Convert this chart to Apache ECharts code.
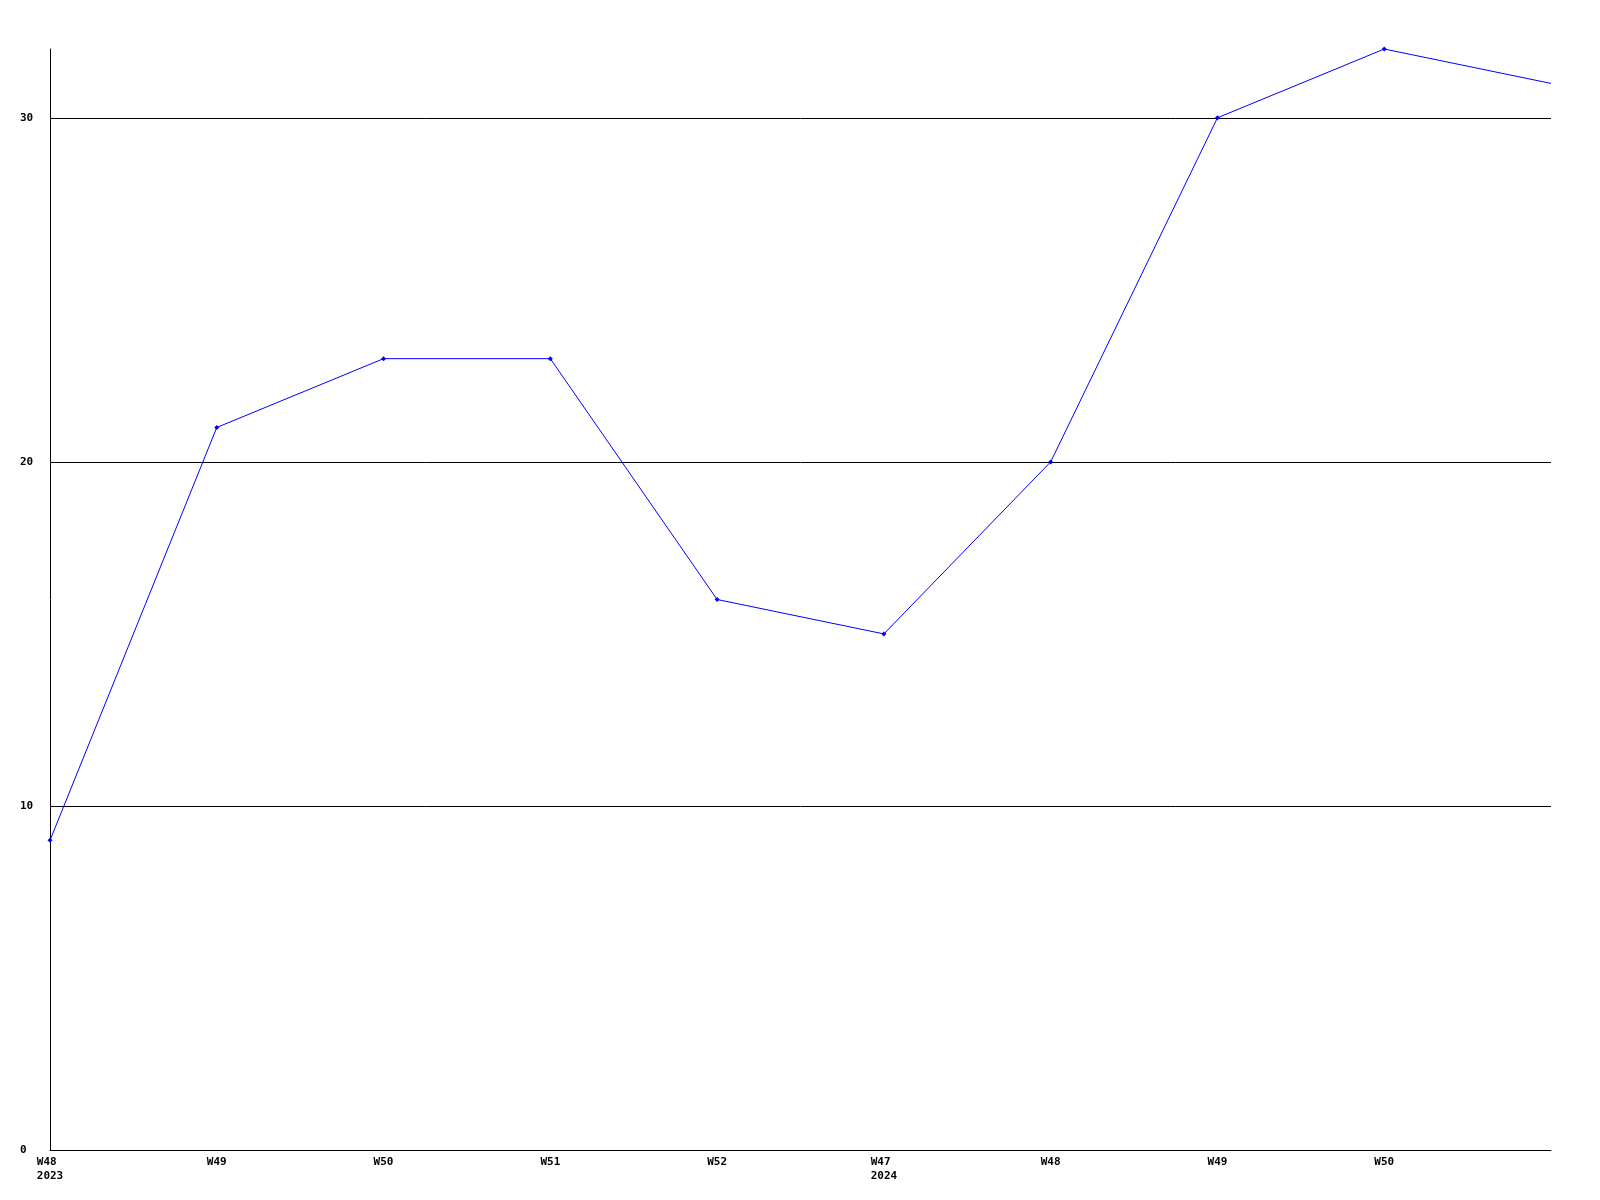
<!DOCTYPE html>
<html>
<head>
<meta charset="utf-8">
<script src="https://cdn.jsdelivr.net/npm/echarts@6/dist/echarts.min.js"></script>
<style>html,body{margin:0;padding:0;background:#fff}#c{width:1600px;height:1200px}</style>
</head>
<body>
<div id="c"></div>
<script>
const categories = ['W48\n2023', 'W49', 'W50', 'W51', 'W52', 'W47\n2024', 'W48', 'W49', 'W50', 'W51'];
const values = [9, 21, 23, 23, 16, 15, 20, 30, 32, 31];
const yTicks = [0, 10, 20, 30];

const chart = echarts.init(document.getElementById('c'), null, {renderer: 'canvas'});
const font = '"DejaVu Sans Mono", "Liberation Mono", monospace';
chart.setOption({
  animation: false,
  backgroundColor: '#ffffff',
  grid: {left: 50, right: 49, top: 49, bottom: 50, containLabel: false},
  xAxis: {
    type: 'category',
    data: categories,
    boundaryGap: false,
    axisLine: {show: true, lineStyle: {color: '#000', width: 1}},
    axisTick: {show: false},
    splitLine: {show: false},
    axisLabel: {
      interval: function (i) { return i < categories.length - 1; },
      color: '#000', fontFamily: font, fontWeight: 'bold', fontSize: 11,
      lineHeight: 14, margin: 5,
      formatter: function (v) {
        const parts = v.split('\n');
        if (parts.length > 1) {
          const w = Math.max(parts[0].length, parts[1].length);
          return parts.map(p => p.padEnd(w, ' ')).join('\n');
        }
        return v;
      }
    }
  },
  yAxis: {
    type: 'value',
    min: 0, max: 32, interval: 10,
    axisLine: {show: true, lineStyle: {color: '#000', width: 1}},
    axisTick: {show: false},
    splitLine: {show: true, lineStyle: {color: ['#000', '#000', '#000', '#000', 'rgba(0,0,0,0)'], width: 1}},
    axisLabel: {
      color: '#000', fontFamily: font, fontWeight: 'bold', fontSize: 11,
      align: 'left', margin: 30,
      formatter: function (v) { return yTicks.indexOf(v) >= 0 ? String(v) : ''; }
    }
  },
  series: [{
    type: 'line',
    data: values.map((v, i) => i === values.length - 1 ? {value: v, symbolSize: 0} : v),
    symbol: 'diamond',
    symbolSize: 5,
    showAllSymbol: true,
    lineStyle: {color: '#0000ff', width: 1},
    itemStyle: {color: '#0000ff'},
    clip: false
  }]
});
</script>
</body>
</html>
